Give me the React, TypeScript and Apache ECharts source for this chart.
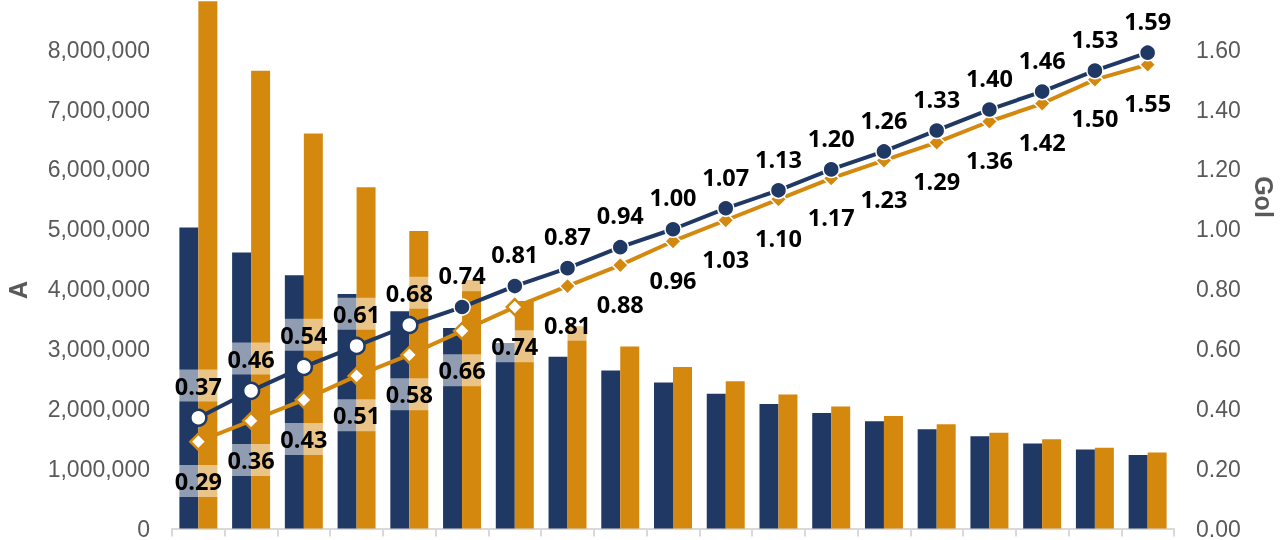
import React, { useEffect, useRef } from "react";
import * as echarts from "echarts";

const categories = ["1", "2", "3", "4", "5", "6", "7", "8", "9", "10", "11", "12", "13", "14", "15", "16", "17", "18", "19"];
const barNavy = [5030000, 4610000, 4230000, 3920000, 3630000, 3350000, 3100000, 2870000, 2640000, 2440000, 2250000, 2080000, 1930000, 1790000, 1660000, 1540000, 1420000, 1320000, 1230000];
const barOrange = [8810000, 7650000, 6600000, 5700000, 4970000, 4150000, 3800000, 3380000, 3040000, 2700000, 2460000, 2240000, 2040000, 1880000, 1740000, 1600000, 1490000, 1350000, 1270000];
const lineNavy = [0.37, 0.46, 0.54, 0.61, 0.68, 0.74, 0.81, 0.87, 0.94, 1.0, 1.07, 1.13, 1.2, 1.26, 1.33, 1.4, 1.46, 1.53, 1.59];
const lineOrange = [0.29, 0.36, 0.43, 0.51, 0.58, 0.66, 0.74, 0.81, 0.88, 0.96, 1.03, 1.1, 1.17, 1.23, 1.29, 1.36, 1.42, 1.5, 1.55];
const leftTitle = "A";
const rightTitle = "Gol";

const NAVY = "#203864";
const ORANGE = "#D4880E";
const GRAY = "#595959";
const AXIS = "#d9d9d9";

const navyHollow = 5;
const orangeHollow = 7;

export default function App() {
  const ref = useRef<HTMLDivElement>(null);
  useEffect(() => {
    if (!ref.current) return;
    const chart = echarts.init(ref.current, null, { renderer: "svg" });

    const labelBase = {
      show: true,
      color: "#000",
      fontFamily: "Open Sans",
      fontWeight: "bold" as const,
      fontSize: 23.5,
      lineHeight: 24,
      backgroundColor: "rgba(255,255,255,0.5)",
      padding: [4, 1],
      formatter: (p: any) => Number(p.value).toFixed(2),
    };

    const navyData = lineNavy.map((v, i) =>
      i < navyHollow
        ? { value: v, symbolSize: 16, itemStyle: { color: "#fff", borderColor: NAVY, borderWidth: 2.5 } }
        : { value: v }
    );
    const orangeData = lineOrange.map((v, i) =>
      i < orangeHollow
        ? { value: v, symbolSize: 16, itemStyle: { color: "#fff", borderColor: ORANGE, borderWidth: 2.5 } }
        : { value: v }
    );

    chart.setOption({
      animation: false,
      grid: { left: 172, right: 106, top: 0, bottom: 8, containLabel: false },
      xAxis: {
        type: "category",
        data: categories,
        boundaryGap: true,
        axisLine: { show: true, lineStyle: { color: AXIS, width: 2 } },
        axisTick: { show: true, alignWithLabel: false, length: 8, lineStyle: { color: AXIS, width: 2 } },
        axisLabel: { show: false },
        splitLine: { show: false },
      },
      yAxis: [
        {
          type: "value",
          min: 0,
          max: 8830000,
          interval: 1000000,
          axisLine: { show: false },
          axisTick: { show: false },
          splitLine: { show: false },
          axisLabel: {
            showMaxLabel: false,
            color: GRAY,
            fontFamily: "Liberation Sans",
            fontSize: 23,
            margin: 22,
            formatter: (v: number) => v.toLocaleString("en-US"),
          },
        },
        {
          type: "value",
          min: 0,
          max: 1.766,
          interval: 0.2,
          axisLine: { show: false },
          axisTick: { show: false },
          splitLine: { show: false },
          axisLabel: {
            showMaxLabel: false,
            color: GRAY,
            fontFamily: "Liberation Sans",
            fontSize: 23,
            margin: 22,
            formatter: (v: number) => v.toFixed(2),
          },
        },
      ],
      series: [
        {
          type: "bar",
          data: barNavy,
          yAxisIndex: 0,
          barGap: "0%",
          barCategoryGap: "28%",
          itemStyle: { color: NAVY },
        },
        {
          type: "bar",
          data: barOrange,
          yAxisIndex: 0,
          barGap: "0%",
          barCategoryGap: "28%",
          itemStyle: { color: ORANGE },
        },
        {
          type: "line",
          data: orangeData,
          yAxisIndex: 1,
          symbol: "diamond",
          symbolSize: 16,
          lineStyle: { color: ORANGE, width: 4 },
          itemStyle: { color: ORANGE, borderColor: "#fff", borderWidth: 1.5 },
          label: { ...labelBase, position: "bottom", distance: 14 },
          z: 3,
        },
        {
          type: "line",
          data: navyData,
          yAxisIndex: 1,
          symbol: "circle",
          symbolSize: 16,
          lineStyle: { color: NAVY, width: 4 },
          itemStyle: { color: NAVY, borderColor: "#fff", borderWidth: 1.5 },
          label: { ...labelBase, position: "top", distance: 7 },
          z: 4,
        },
      ],
      graphic: [
        {
          type: "text",
          x: 18,
          y: 290,
          rotation: Math.PI / 2,
          style: {
            text: leftTitle,
            fill: GRAY,
            font: "bold 25px 'Liberation Sans'",
            align: "center",
            verticalAlign: "middle",
          },
        },
        {
          type: "text",
          x: 1264,
          y: 197,
          rotation: -Math.PI / 2,
          style: {
            text: rightTitle,
            fill: GRAY,
            font: "bold 25px 'Liberation Sans'",
            align: "center",
            verticalAlign: "middle",
          },
        },
      ],
    });
    return () => chart.dispose();
  }, []);
  return (
    <div
      ref={ref}
      style={{ position: "fixed", left: 0, top: 0, width: 1280, height: 540 }}
    />
  );
}
